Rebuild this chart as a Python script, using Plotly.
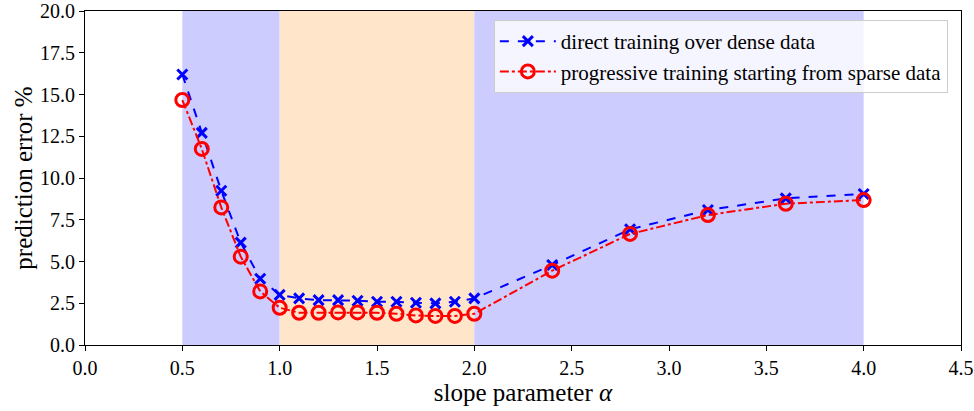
import plotly.graph_objects as go

# slope parameter values
alpha = [0.5, 0.6, 0.7, 0.8, 0.9, 1.0, 1.1, 1.2, 1.3, 1.4, 1.5, 1.6, 1.7, 1.8, 1.9, 2.0,
         2.4, 2.8, 3.2, 3.6, 4.0]

# prediction error (%) for each training scheme
direct_err = [16.2, 12.7, 9.24, 6.13, 3.97, 3.0, 2.79, 2.69, 2.69, 2.65, 2.59, 2.59, 2.53, 2.49,
              2.59, 2.79, 4.79, 6.93, 8.08, 8.78, 9.04]
progressive_err = [14.67, 11.74, 8.24, 5.29, 3.21, 2.23, 1.93, 1.93, 1.95, 1.95, 1.93, 1.87, 1.77,
                   1.74, 1.74, 1.87, 4.45, 6.65, 7.78, 8.46, 8.68]

# shaded alpha regions
regions = [(0.5, 1.0, "rgb(204,204,255)"), (1.0, 2.0, "rgb(255,230,202)"), (2.0, 4.0, "rgb(204,204,255)")]

x_ticks = [0.0, 0.5, 1.0, 1.5, 2.0, 2.5, 3.0, 3.5, 4.0, 4.5]
y_ticks = [0.0, 2.5, 5.0, 7.5, 10.0, 12.5, 15.0, 17.5, 20.0]

FONT = "Liberation Serif"

fig = go.Figure()

for x0, x1, col in regions:
    fig.add_vrect(x0=x0, x1=x1, fillcolor=col, opacity=1, line_width=0, layer="below")

fig.add_trace(go.Scatter(
    x=alpha, y=direct_err, mode="lines+markers",
    name="direct training over dense data",
    line=dict(color="blue", width=2, dash="dash"),
    marker=dict(symbol="x-thin-open", size=10, color="blue", line=dict(color="blue", width=3)),
))
fig.add_trace(go.Scatter(
    x=alpha, y=progressive_err, mode="lines+markers",
    name="progressive training starting from sparse data",
    line=dict(color="red", width=2, dash="dashdot"),
    marker=dict(symbol="circle-open", size=13, color="red", line=dict(color="red", width=3)),
))

fig.update_layout(
    width=974, height=411,
    margin=dict(l=85, r=13, t=11, b=66),
    plot_bgcolor="white", paper_bgcolor="white",
    font=dict(family=FONT, size=20, color="black"),
    legend=dict(
        x=0.985, y=0.973, xanchor="right", yanchor="top",
        bgcolor="rgba(255,255,255,0.8)", bordercolor="#cccccc", borderwidth=1,
        font=dict(family=FONT, size=21), tracegroupgap=0, itemwidth=56,
    ),
    xaxis=dict(
        range=[0, 4.5], tickvals=x_ticks, ticktext=[f"{v:.1f}" for v in x_ticks],
        showgrid=False, zeroline=False, showline=True, linecolor="black", linewidth=1,
        mirror=True, ticks="outside", ticklen=5, tickcolor="black", automargin=False,
        title=dict(text="slope parameter <i>α</i>", font=dict(size=25), standoff=4),
    ),
    yaxis=dict(
        range=[0, 20], tickvals=y_ticks, ticktext=[f"{v:.1f}" for v in y_ticks],
        showgrid=False, zeroline=False, showline=True, linecolor="black", linewidth=1,
        mirror=True, ticks="outside", ticklen=5, tickcolor="black", automargin=False,
        title=dict(text="prediction error %", font=dict(size=25), standoff=0),
    ),
)

fig.write_html("out.html")
